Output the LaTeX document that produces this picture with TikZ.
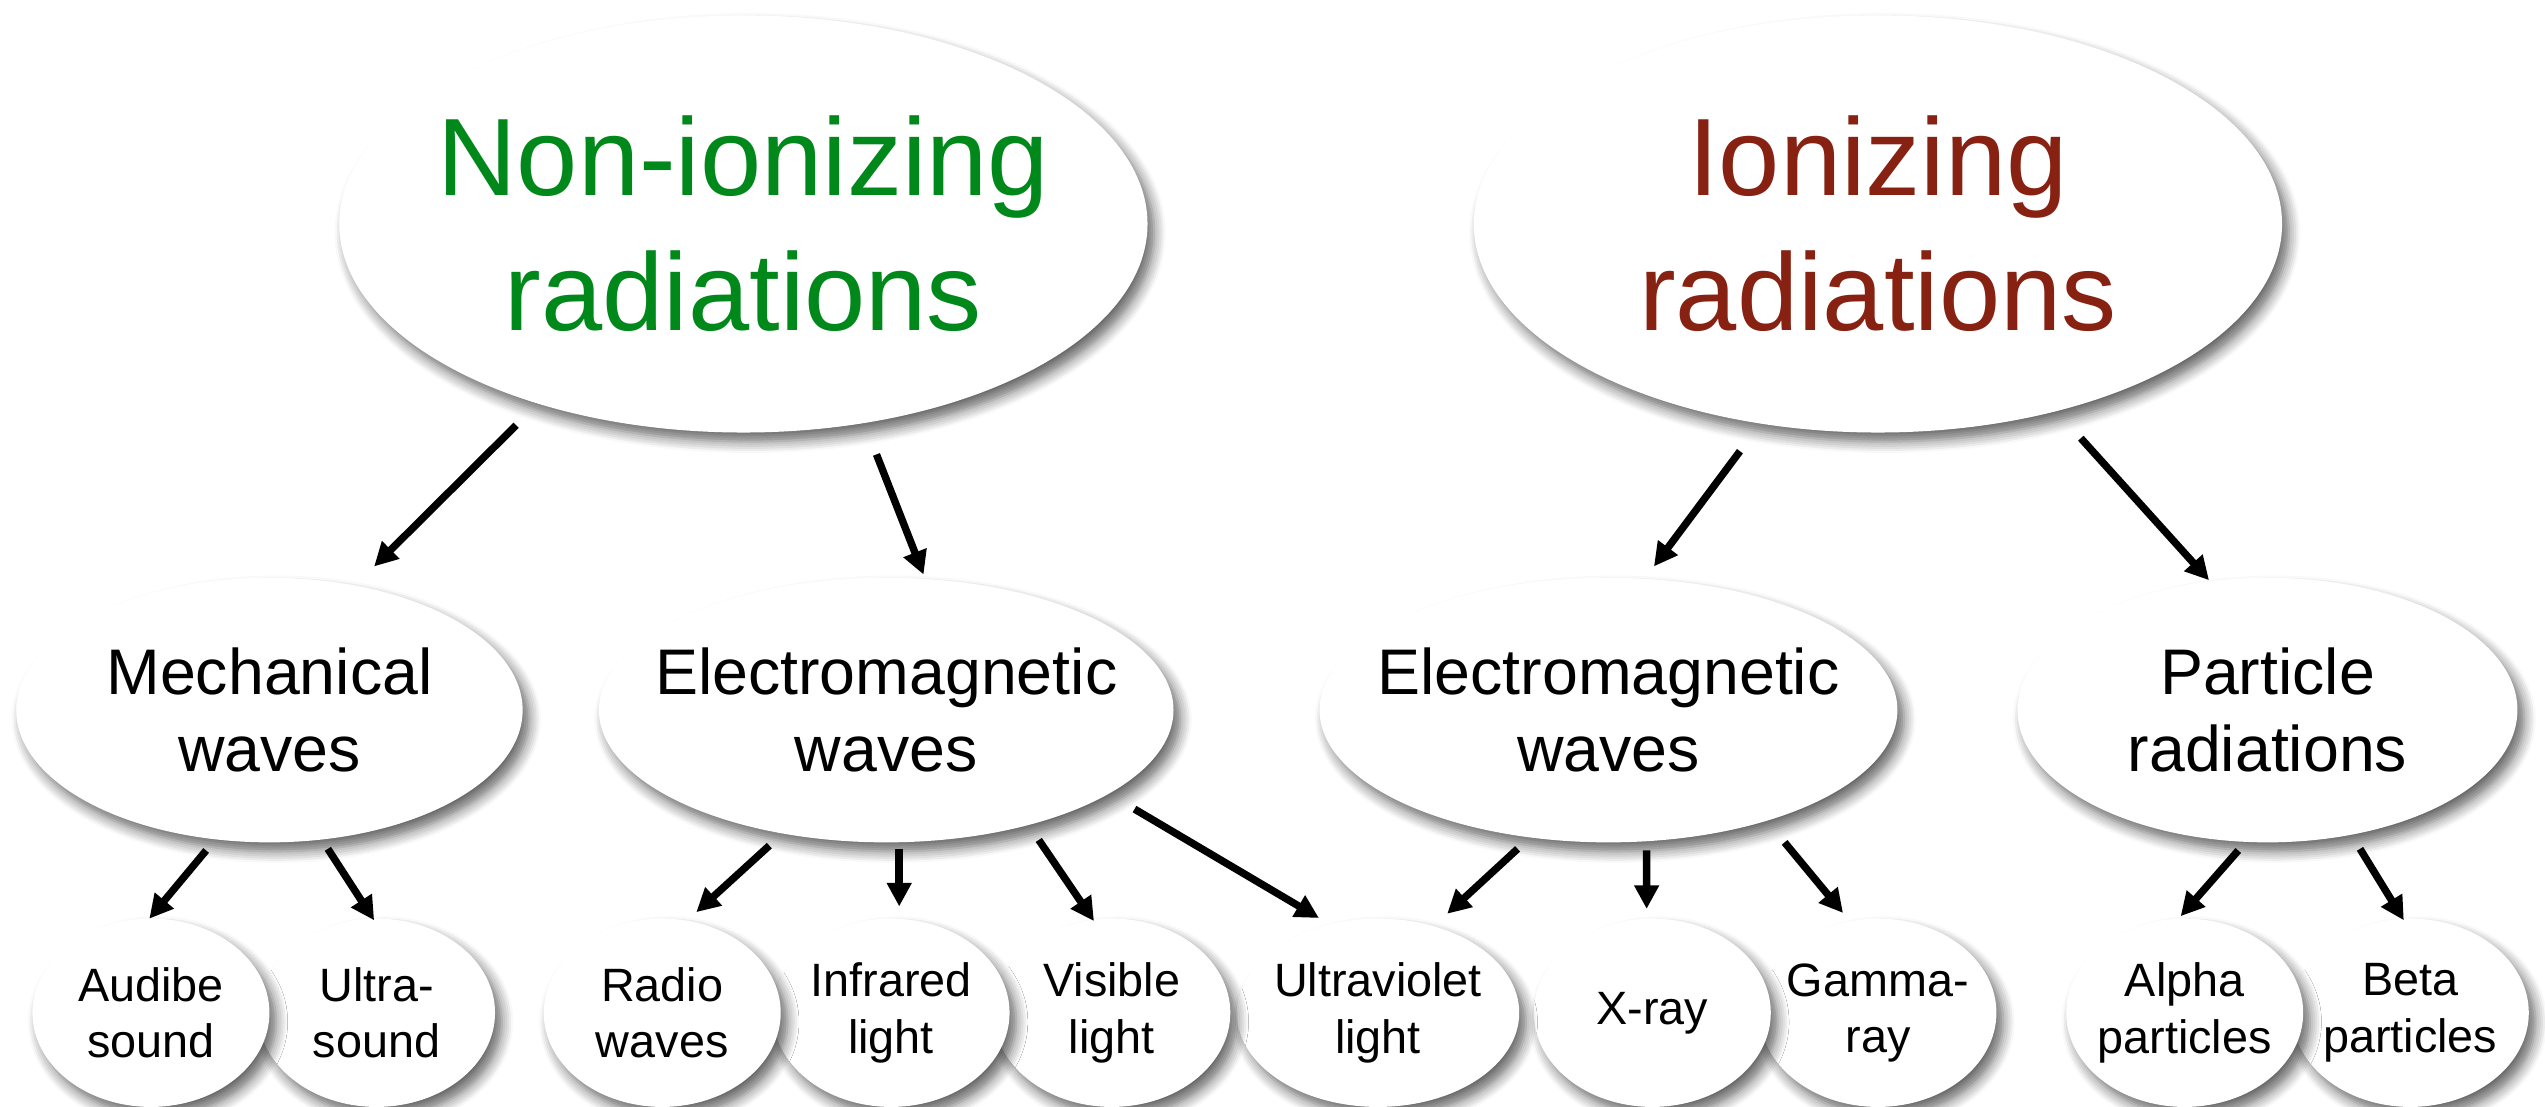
\documentclass[tikz,border=0pt]{standalone}
\usepackage{fontspec}
\setmainfont{Liberation Sans}
\usetikzlibrary{shapes.geometric,arrows.meta,shadows.blur}
\definecolor{nongreen}{RGB}{0,136,26}
\definecolor{ionred}{RGB}{135,33,17}
\tikzset{
  bubble/.style={ellipse, fill=white, inner sep=-3mm, align=center,
    blur shadow={shadow xshift=1.2pt, shadow yshift=-1.6pt, shadow blur radius=2pt, shadow blur steps=6, shadow opacity=60}},
  topbubble/.style={bubble, minimum width=4.98cm, minimum height=2.57cm, font=\fontsize{19.3}{23.6}\selectfont},
  midbubble/.style={bubble, minimum height=1.63cm, font=\fontsize{11.3}{13.6}\selectfont},
  leaf/.style={bubble, minimum width=1.46cm, minimum height=1.16cm, font=\fontsize{8.2}{9.9}\selectfont},
  arr/.style={-{Triangle[length=1.45mm,width=1.45mm]}, line width=1.3pt}
}
\begin{document}
\begin{tikzpicture}
\useasboundingbox (0,0) rectangle (15.68,6.82);

\node[topbubble, text=nongreen] (nonion) at (4.58, 5.44) {Non-ionizing\\radiations};
\node[topbubble, text=ionred] (ion) at (11.57, 5.44) {Ionizing\\radiations};

\node[midbubble, minimum width=3.12cm] (mech) at (1.66, 2.445) {Mechanical\\waves};
\node[midbubble, minimum width=3.54cm] (emleft) at (5.46, 2.445) {Electromagnetic\\waves};
\node[midbubble, minimum width=3.56cm] (emright) at (9.91, 2.445) {Electromagnetic\\waves};
\node[midbubble, minimum width=3.08cm] (part) at (13.97, 2.445) {Particle\\radiations};

\node[leaf] (beta) at (14.85, 0.58) {Beta\\particles};
\node[leaf] (alpha) at (13.46, 0.58) {Alpha\\particles};
\node[leaf] (gamma) at (11.57, 0.58) {Gamma-\\ray};
\node[leaf] (xray) at (10.18, 0.58) {X-ray};
\node[leaf, minimum width=1.74cm] (uv) at (8.49, 0.58) {Ultraviolet\\light};
\node[leaf] (visible) at (6.85, 0.58) {Visible\\light};
\node[leaf] (infra) at (5.49, 0.58) {Infrared\\light};
\node[leaf] (radio) at (4.08, 0.58) {Radio\\waves};
\node[leaf] (ultra) at (2.32, 0.58) {Ultra-\\sound};
\node[leaf] (audible) at (0.93, 0.58) {Audibe\\sound};

\draw[arr] ([shift={(-1.40,-1.24)}]nonion.center) -- ([shift={(0.645,0.885)}]mech.center);
\draw[arr] ([shift={(0.82,-1.42)}]nonion.center) -- ([shift={(0.23,0.835)}]emleft.center);
\draw[arr] ([shift={(-0.85,-1.40)}]ion.center) -- ([shift={(0.28,0.885)}]emright.center);
\draw[arr] ([shift={(1.25,-1.32)}]ion.center) -- ([shift={(-0.36,0.80)}]part.center);

\draw[arr] ([shift={(-0.39,-0.865)}]mech.center) -- ([shift={(-0.01,0.58)}]audible.center);
\draw[arr] ([shift={(0.36,-0.855)}]mech.center) -- ([shift={(-0.015,0.57)}]ultra.center);

\draw[arr] ([shift={(-0.72,-0.835)}]emleft.center) -- ([shift={(0.21,0.62)}]radio.center);
\draw[arr] ([shift={(0.08,-0.855)}]emleft.center) -- ([shift={(0.05,0.655)}]infra.center);
\draw[arr] ([shift={(0.94,-0.80)}]emleft.center) -- ([shift={(-0.11,0.565)}]visible.center);
\draw[arr] ([shift={(1.53,-0.61)}]emleft.center) -- ([shift={(-0.364,0.584)}]uv.center);

\draw[arr] ([shift={(-0.56,-0.855)}]emright.center) -- ([shift={(0.426,0.61)}]uv.center);
\draw[arr] ([shift={(0.235,-0.865)}]emright.center) -- ([shift={(-0.035,0.64)}]xray.center);
\draw[arr] ([shift={(1.085,-0.815)}]emright.center) -- ([shift={(-0.215,0.615)}]gamma.center);

\draw[arr] ([shift={(-0.18,-0.865)}]part.center) -- ([shift={(-0.025,0.595)}]alpha.center);
\draw[arr] ([shift={(0.57,-0.855)}]part.center) -- ([shift={(-0.04,0.57)}]beta.center);
\end{tikzpicture}
\end{document}
